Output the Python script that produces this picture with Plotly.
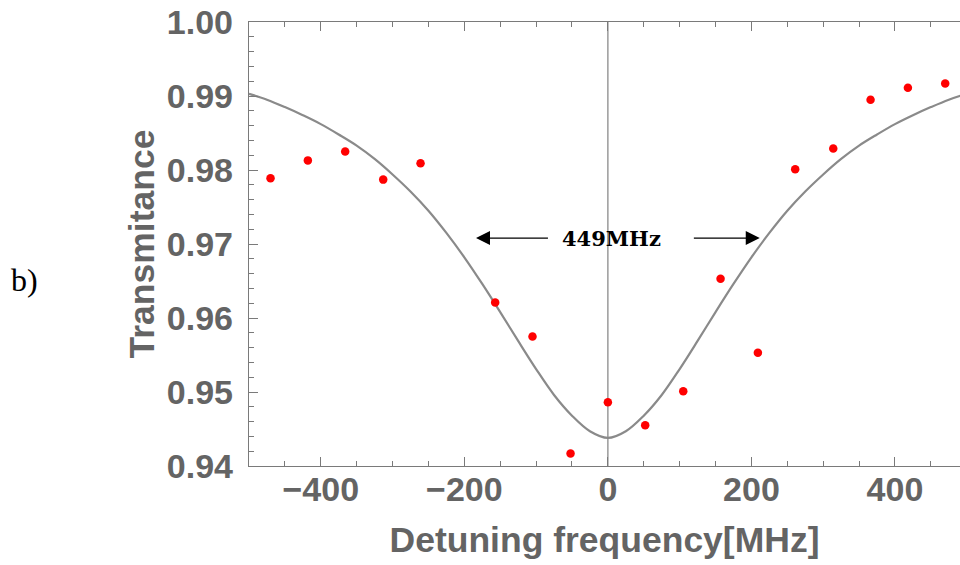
import plotly.graph_objects as go

# ---- data ----
detuning_mhz = [-470, -418, -366, -313, -261, -157, -105, -52, 0, 52,
                105, 157, 209, 261, 314, 366, 418, 470]
transmittance = [0.9789, 0.9813, 0.9825, 0.9787, 0.9809, 0.9621, 0.9575,
                 0.9417, 0.9486, 0.9455, 0.9501, 0.9653, 0.9553, 0.9801,
                 0.9829, 0.9895, 0.9911, 0.9917]

# fitted curve
fit_x = [-500, -475, -450, -425, -400, -375, -350, -325, -300, -275, -250,
         -225, -200, -175, -150, -125, -100, -75, -50, -25, 0,
         25, 50, 75, 100, 125, 150, 175, 200, 225, 250,
         275, 300, 325, 350, 375, 400, 425, 450, 475, 500]
fit_y = [0.9903, 0.9895, 0.9885, 0.9874, 0.9862, 0.9848, 0.9833, 0.9815,
         0.9794, 0.9771, 0.9745, 0.9715, 0.9682, 0.9646, 0.9608, 0.9569,
         0.9531, 0.9496, 0.9468, 0.9447, 0.9438,
         0.9447, 0.9468, 0.9496, 0.9531, 0.9569, 0.9608, 0.9646, 0.9682,
         0.9715, 0.9745, 0.9771, 0.9794, 0.9815, 0.9833, 0.9848, 0.9862,
         0.9874, 0.9885, 0.9895, 0.9903]

y_ticks = [0.94, 0.95, 0.96, 0.97, 0.98, 0.99, 1.00]
x_ticks = [-400, -200, 0, 200, 400]
width_label = "449MHz"

GRAY_TXT = "#646464"
AX = "#7a7a7a"

fig = go.Figure()
fig.add_trace(go.Scatter(x=fit_x, y=fit_y, mode="lines", line_shape="spline",
                         line=dict(color="#8a8a8a", width=2.2),
                         hoverinfo="skip", showlegend=False))
fig.add_trace(go.Scatter(x=detuning_mhz, y=transmittance, mode="markers",
                         marker=dict(color="#ff0000", size=8.5),
                         showlegend=False))

fig.add_shape(type="line", xref="x", yref="paper", x0=0, x1=0, y0=0, y1=1,
              line=dict(color="#9a9a9a", width=1.5), layer="below")

tickfont = dict(family="Liberation Sans", size=34, color=GRAY_TXT, weight="bold")
titlefont = dict(family="Liberation Sans", size=35.5, color=GRAY_TXT, weight="bold")

fig.update_xaxes(range=[-500, 490.6], tickvals=x_ticks, ticks="inside",
                 ticklen=9, tickwidth=1.2, tickcolor=AX, showline=True,
                 linecolor=AX, linewidth=1.3, mirror="ticks", showgrid=False,
                 zeroline=False, tickfont=tickfont, ticklabelstandoff=-7,
                 minor=dict(dtick=50, tick0=0, ticks="inside", ticklen=5,
                            tickcolor=AX, tickwidth=1, showgrid=False),
                 title=dict(text="Detuning frequency[MHz]", font=titlefont,
                            standoff=20),
                 automargin=False)
fig.update_yaxes(range=[0.94, 1.00], tickvals=y_ticks, tickformat=".2f",
                 ticks="inside", ticklen=9, tickwidth=1.2, tickcolor=AX,
                 showline=True, linecolor=AX, linewidth=1.3, showgrid=False,
                 zeroline=False, tickfont=tickfont, ticklabelstandoff=8,
                 minor=dict(dtick=0.002, tick0=0.94, ticks="inside", ticklen=5,
                            tickcolor=AX, tickwidth=1, showgrid=False),
                 title=dict(text="Transmitance", font=titlefont, standoff=1),
                 automargin=False)

arrow_y = 0.9708
fig.add_annotation(x=-183.7, y=arrow_y, ax=-81.4, ay=arrow_y, xref="x", yref="y",
                   axref="x", ayref="y", text="", showarrow=True,
                   arrowhead=2, arrowsize=2.0, arrowwidth=1.4, arrowcolor="black")
fig.add_annotation(x=211.6, y=arrow_y, ax=117.7, ay=arrow_y, xref="x", yref="y",
                   axref="x", ayref="y", text="", showarrow=True,
                   arrowhead=2, arrowsize=2.0, arrowwidth=1.4, arrowcolor="black")
fig.add_annotation(x=5, y=arrow_y, xref="x", yref="y", text=width_label,
                   showarrow=False, bgcolor="rgba(255,255,255,0)",
                   font=dict(family="DejaVu Serif", size=21, color="black",
                             weight="bold"))
fig.add_annotation(x=-0.337, y=0.419, xref="paper", yref="paper", text="b)",
                   showarrow=False, xanchor="left",
                   font=dict(family="Liberation Serif", size=32, color="black"))

fig.update_layout(width=960, height=565, paper_bgcolor="white",
                  plot_bgcolor="white",
                  margin=dict(l=249, r=0, t=22, b=99))
fig.write_html("out.html")
